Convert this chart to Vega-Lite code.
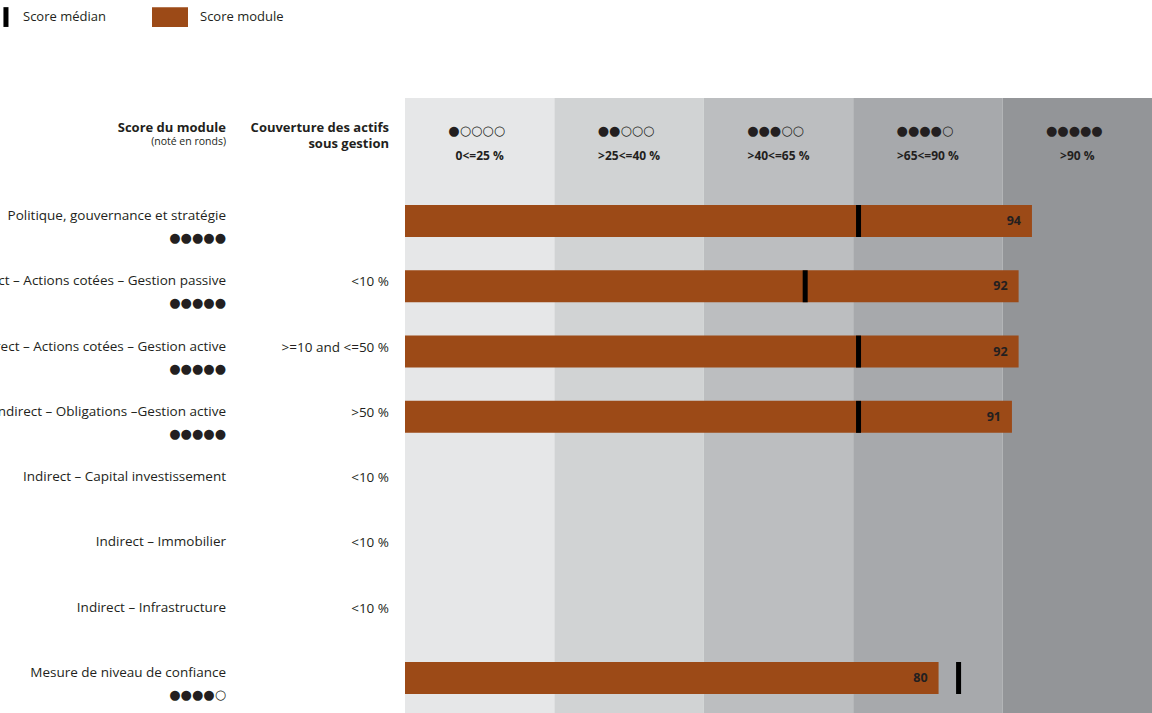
{
  "$schema": "https://vega.github.io/schema/vega-lite/v6.json",
  "width": 1152,
  "height": 713,
  "autosize": {"type": "none"},
  "padding": 0,
  "background": "white",
  "config": {
    "view": {"stroke": null},
    "font": "Open Sans",
    "text": {"font": "Open Sans", "color": "#231f20", "baseline": "middle"}
  },
  "datasets": {
    "lignes": [
      {"module": "Politique, gouvernance et stratégie", "ronds": "●●●●●", "couverture": "", "score": 94, "mediane": 68},
      {"module": "Indirect – Actions cotées – Gestion passive", "ronds": "●●●●●", "couverture": "<10 %", "score": 92, "mediane": 60},
      {"module": "Indirect – Actions cotées – Gestion active", "ronds": "●●●●●", "couverture": ">=10 and <=50 %", "score": 92, "mediane": 68},
      {"module": "Indirect – Obligations –Gestion active", "ronds": "●●●●●", "couverture": ">50 %", "score": 91, "mediane": 68},
      {"module": "Indirect – Capital investissement", "ronds": "", "couverture": "<10 %", "score": null, "mediane": null},
      {"module": "Indirect – Immobilier", "ronds": "", "couverture": "<10 %", "score": null, "mediane": null},
      {"module": "Indirect – Infrastructure", "ronds": "", "couverture": "<10 %", "score": null, "mediane": null},
      {"module": "Mesure de niveau de confiance", "ronds": "●●●●○", "couverture": "", "score": 80, "mediane": 83}
    ],
    "tranches": [
      {"tranche": "0<=25 %", "ronds": "●○○○○"},
      {"tranche": ">25<=40 %", "ronds": "●●○○○"},
      {"tranche": ">40<=65 %", "ronds": "●●●○○"},
      {"tranche": ">65<=90 %", "ronds": "●●●●○"},
      {"tranche": ">90 %", "ronds": "●●●●●"}
    ]
  },
  "resolve": {"scale": {"x": "independent", "y": "independent"}},
  "layer": [
    {
      "data": {"name": "tranches"},
      "mark": {"type": "rect"},
      "encoding": {
        "x": {"field": "tranche", "type": "nominal", "axis": null,
              "scale": {"type": "band", "domain": ["0<=25 %", ">25<=40 %", ">40<=65 %", ">65<=90 %", ">90 %"], "range": [405, 1152], "paddingInner": 0, "paddingOuter": 0}},
        "y": {"datum": 0, "type": "quantitative", "axis": null, "scale": {"domain": [0, 1], "range": [98, 713], "nice": false}},
        "y2": {"datum": 1},
        "fill": {"field": "tranche", "type": "nominal", "legend": null,
                 "scale": {"domain": ["0<=25 %", ">25<=40 %", ">40<=65 %", ">65<=90 %", ">90 %"], "range": ["#e6e7e8", "#d1d3d4", "#bcbec0", "#a7a9ac", "#939598"]}}
      }
    },
    {
      "data": {"name": "tranches"},
      "mark": {"type": "text", "font": "DejaVu Sans", "fontSize": 13, "align": "center", "dy": 33, "dx": -3},
      "encoding": {
        "x": {"field": "tranche", "type": "nominal", "axis": null,
              "scale": {"type": "band", "domain": ["0<=25 %", ">25<=40 %", ">40<=65 %", ">65<=90 %", ">90 %"], "range": [405, 1152], "paddingInner": 0, "paddingOuter": 0}},
        "y": {"datum": 0, "type": "quantitative", "axis": null, "scale": {"domain": [0, 1], "range": [98, 713], "nice": false}},
        "text": {"field": "ronds", "type": "nominal"}
      }
    },
    {
      "data": {"name": "tranches"},
      "mark": {"type": "text", "fontSize": 12, "fontWeight": "bold", "align": "center", "dy": 58},
      "encoding": {
        "x": {"field": "tranche", "type": "nominal", "axis": null,
              "scale": {"type": "band", "domain": ["0<=25 %", ">25<=40 %", ">40<=65 %", ">65<=90 %", ">90 %"], "range": [405, 1152], "paddingInner": 0, "paddingOuter": 0}},
        "y": {"datum": 0, "type": "quantitative", "axis": null, "scale": {"domain": [0, 1], "range": [98, 713], "nice": false}},
        "text": {"field": "tranche", "type": "nominal"}
      }
    },
    {
      "data": {"values": [{"texte": "Score du module"}]},
      "mark": {"type": "text", "fontSize": 13, "fontWeight": "bold", "align": "right", "dy": 30},
      "encoding": {
        "x": {"datum": "module", "type": "nominal", "axis": null, "scale": {"type": "point", "domain": ["module", "couverture"], "range": [226, 389], "padding": 0}},
        "y": {"datum": 0, "type": "quantitative", "axis": null, "scale": {"domain": [0, 1], "range": [98, 713], "nice": false}},
        "text": {"field": "texte", "type": "nominal"}
      }
    },
    {
      "data": {"values": [{"texte": "(noté en ronds)"}]},
      "mark": {"type": "text", "fontSize": 10.5, "align": "right", "dy": 44},
      "encoding": {
        "x": {"datum": "module", "type": "nominal", "axis": null, "scale": {"type": "point", "domain": ["module", "couverture"], "range": [226, 389], "padding": 0}},
        "y": {"datum": 0, "type": "quantitative", "axis": null, "scale": {"domain": [0, 1], "range": [98, 713], "nice": false}},
        "text": {"field": "texte", "type": "nominal"}
      }
    },
    {
      "data": {"values": [{"texte": "Couverture des actifs"}]},
      "mark": {"type": "text", "fontSize": 13, "fontWeight": "bold", "align": "right", "dy": 29.5},
      "encoding": {
        "x": {"datum": "couverture", "type": "nominal", "axis": null, "scale": {"type": "point", "domain": ["module", "couverture"], "range": [226, 389], "padding": 0}},
        "y": {"datum": 0, "type": "quantitative", "axis": null, "scale": {"domain": [0, 1], "range": [98, 713], "nice": false}},
        "text": {"field": "texte", "type": "nominal"}
      }
    },
    {
      "data": {"values": [{"texte": "sous gestion"}]},
      "mark": {"type": "text", "fontSize": 13, "fontWeight": "bold", "align": "right", "dy": 45.5},
      "encoding": {
        "x": {"datum": "couverture", "type": "nominal", "axis": null, "scale": {"type": "point", "domain": ["module", "couverture"], "range": [226, 389], "padding": 0}},
        "y": {"datum": 0, "type": "quantitative", "axis": null, "scale": {"domain": [0, 1], "range": [98, 713], "nice": false}},
        "text": {"field": "texte", "type": "nominal"}
      }
    },
    {
      "data": {"name": "lignes"},
      "mark": {"type": "text", "fontSize": 13.5, "align": "right", "dy": -5},
      "encoding": {
        "x": {"datum": "module", "type": "nominal", "axis": null, "scale": {"type": "point", "domain": ["module", "couverture"], "range": [226, 389], "padding": 0}},
        "y": {"field": "module", "type": "nominal", "axis": null, "scale": {"type": "point", "range": [221, 678], "padding": 0, "domain": ["Politique, gouvernance et stratégie", "Indirect – Actions cotées – Gestion passive", "Indirect – Actions cotées – Gestion active", "Indirect – Obligations –Gestion active", "Indirect – Capital investissement", "Indirect – Immobilier", "Indirect – Infrastructure", "Mesure de niveau de confiance"]}},
        "text": {"field": "module", "type": "nominal"}
      }
    },
    {
      "data": {"name": "lignes"},
      "mark": {"type": "text", "font": "DejaVu Sans", "fontSize": 13, "align": "right", "dy": 17},
      "encoding": {
        "x": {"datum": "module", "type": "nominal", "axis": null, "scale": {"type": "point", "domain": ["module", "couverture"], "range": [226, 389], "padding": 0}},
        "y": {"field": "module", "type": "nominal", "axis": null, "scale": {"type": "point", "range": [221, 678], "padding": 0, "domain": ["Politique, gouvernance et stratégie", "Indirect – Actions cotées – Gestion passive", "Indirect – Actions cotées – Gestion active", "Indirect – Obligations –Gestion active", "Indirect – Capital investissement", "Indirect – Immobilier", "Indirect – Infrastructure", "Mesure de niveau de confiance"]}},
        "text": {"field": "ronds", "type": "nominal"}
      }
    },
    {
      "data": {"name": "lignes"},
      "mark": {"type": "text", "fontSize": 13.5, "align": "right", "dy": -4},
      "encoding": {
        "x": {"datum": "couverture", "type": "nominal", "axis": null, "scale": {"type": "point", "domain": ["module", "couverture"], "range": [226, 389], "padding": 0}},
        "y": {"field": "module", "type": "nominal", "axis": null, "scale": {"type": "point", "range": [221, 678], "padding": 0, "domain": ["Politique, gouvernance et stratégie", "Indirect – Actions cotées – Gestion passive", "Indirect – Actions cotées – Gestion active", "Indirect – Obligations –Gestion active", "Indirect – Capital investissement", "Indirect – Immobilier", "Indirect – Infrastructure", "Mesure de niveau de confiance"]}},
        "text": {"field": "couverture", "type": "nominal"}
      }
    },
    {
      "data": {"name": "lignes"},
      "mark": {"type": "bar", "height": 32},
      "encoding": {
        "x": {"field": "score", "type": "quantitative", "axis": null, "scale": {"domain": [0, 112], "range": [405, 1152], "nice": false, "zero": true}},
        "y": {"field": "module", "type": "nominal", "axis": null, "scale": {"type": "point", "range": [221, 678], "padding": 0, "domain": ["Politique, gouvernance et stratégie", "Indirect – Actions cotées – Gestion passive", "Indirect – Actions cotées – Gestion active", "Indirect – Obligations –Gestion active", "Indirect – Capital investissement", "Indirect – Immobilier", "Indirect – Infrastructure", "Mesure de niveau de confiance"]}},
        "color": {"datum": "Score module", "type": "nominal",
                  "scale": {"domain": ["Score médian", "Score module"], "range": ["#000000", "#9c4a17"]},
                  "legend": {
                    "title": null, "orient": "none", "legendX": -25, "legendY": -1, "direction": "horizontal",
                    "symbolSize": 1296, "labelFont": "Open Sans", "labelFontSize": 13, "labelColor": "#231f20",
                    "labelOffset": 12, "columnPadding": 46, "symbolStrokeWidth": 0, "symbolOpacity": 1,
                    "encode": {"symbols": {"update": {
                      "shape": {"signal": "datum.value === 'Score médian' ? 'M0.58,-0.55H0.86V0.55H0.58Z' : 'M-1,-0.55H1V0.55H-1Z'"},
                      "strokeWidth": {"value": 0}
                    }}}
                  }}
      }
    },
    {
      "data": {"name": "lignes"},
      "mark": {"type": "tick", "orient": "vertical", "thickness": 5, "size": 32, "opacity": 1},
      "encoding": {
        "x": {"field": "mediane", "type": "quantitative", "axis": null, "scale": {"domain": [0, 112], "range": [405, 1152], "nice": false, "zero": true}},
        "y": {"field": "module", "type": "nominal", "axis": null, "scale": {"type": "point", "range": [221, 678], "padding": 0, "domain": ["Politique, gouvernance et stratégie", "Indirect – Actions cotées – Gestion passive", "Indirect – Actions cotées – Gestion active", "Indirect – Obligations –Gestion active", "Indirect – Capital investissement", "Indirect – Immobilier", "Indirect – Infrastructure", "Mesure de niveau de confiance"]}},
        "color": {"datum": "Score médian", "type": "nominal"}
      }
    },
    {
      "data": {"name": "lignes"},
      "mark": {"type": "text", "fontSize": 12.5, "fontWeight": "bold", "align": "right", "dx": -11},
      "encoding": {
        "x": {"field": "score", "type": "quantitative", "axis": null, "scale": {"domain": [0, 112], "range": [405, 1152], "nice": false, "zero": true}},
        "y": {"field": "module", "type": "nominal", "axis": null, "scale": {"type": "point", "range": [221, 678], "padding": 0, "domain": ["Politique, gouvernance et stratégie", "Indirect – Actions cotées – Gestion passive", "Indirect – Actions cotées – Gestion active", "Indirect – Obligations –Gestion active", "Indirect – Capital investissement", "Indirect – Immobilier", "Indirect – Infrastructure", "Mesure de niveau de confiance"]}},
        "text": {"field": "score", "type": "quantitative"}
      }
    }
  ]
}
